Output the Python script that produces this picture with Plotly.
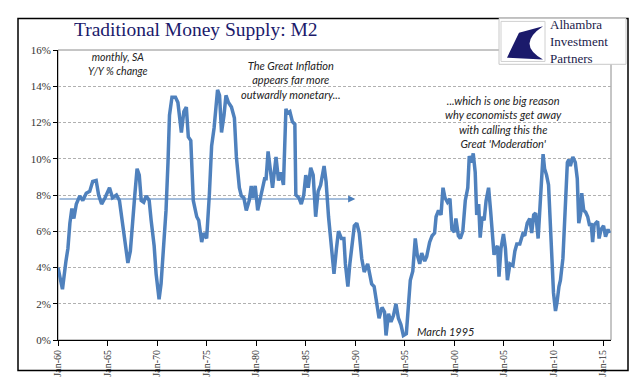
import plotly.graph_objects as go

# ---- data ----
years = [
    1960.0, 1960.25, 1960.45, 1960.8, 1961.0, 1961.2, 1961.4, 1961.6, 1961.85, 1962.2, 1962.5, 1962.85,
    1963.2, 1963.5, 1963.85, 1964.1, 1964.4, 1964.75, 1965.2, 1965.5, 1965.9, 1966.2, 1966.55, 1966.8,
    1967.05, 1967.3, 1967.5, 1967.75, 1967.98, 1968.2, 1968.4, 1968.65, 1968.9, 1969.2, 1969.4, 1969.7, 1969.9,
    1970.2, 1970.4, 1970.65, 1970.9, 1971.1, 1971.25, 1971.5, 1971.85, 1972.1, 1972.3, 1972.45, 1972.7,
    1972.95, 1973.15, 1973.4, 1973.65, 1974.0, 1974.2, 1974.5, 1974.7, 1975.0, 1975.27, 1975.5, 1975.75,
    1975.95, 1976.1, 1976.3, 1976.5, 1976.75, 1976.95, 1977.2, 1977.5, 1977.8, 1978.0, 1978.3, 1978.5,
    1978.75, 1979.0, 1979.3, 1979.5, 1979.65, 1979.9,
    1980.15, 1980.4, 1980.65, 1980.85, 1981.0, 1981.2, 1981.45, 1981.65, 1982.0, 1982.25, 1982.5, 1982.75,
    1983.0, 1983.15, 1983.4, 1983.65, 1983.9, 1984.0, 1984.3, 1984.55, 1984.8, 1985.0, 1985.25, 1985.5,
    1985.75, 1986.0, 1986.25, 1986.5, 1986.85, 1987.05, 1987.3, 1987.6, 1987.85, 1988.1, 1988.3, 1988.6,
    1988.85, 1989.0, 1989.25, 1989.45, 1989.65, 1989.9,
    1990.15, 1990.4, 1990.65, 1990.9, 1991.25, 1991.4, 1991.65, 1991.9, 1992.15, 1992.4, 1992.7, 1992.95,
    1993.1, 1993.35, 1993.6, 1993.85, 1994.1, 1994.35, 1994.6, 1994.85, 1995.15, 1995.35, 1995.55, 1995.8,
    1996.05, 1996.25, 1996.5, 1996.7, 1997.0, 1997.2, 1997.5, 1997.75, 1998.0, 1998.15, 1998.4, 1998.65,
    1998.85, 1999.05, 1999.3, 1999.55, 1999.75,
    2000.0, 2000.15, 2000.4, 2000.6, 2000.85, 2001.1, 2001.35, 2001.5, 2001.75, 2001.9, 2002.1, 2002.25,
    2002.45, 2002.6, 2002.8, 2003.0, 2003.2, 2003.45, 2003.65, 2003.85, 2004.0, 2004.2, 2004.35, 2004.5,
    2004.7, 2004.95, 2005.15, 2005.35, 2005.6, 2005.9, 2006.1, 2006.3, 2006.6, 2006.9, 2007.1, 2007.35,
    2007.6, 2007.8, 2008.0, 2008.2, 2008.45, 2008.6, 2008.8, 2008.95, 2009.1, 2009.3, 2009.5, 2009.7, 2009.85,
    2010.0, 2010.2, 2010.35, 2010.55, 2010.7, 2010.95, 2011.2, 2011.4, 2011.55, 2011.7, 2011.95, 2012.2,
    2012.4, 2012.55, 2012.75, 2012.85, 2013.05, 2013.25, 2013.45, 2013.65, 2013.8, 2013.95, 2014.1, 2014.3,
    2014.45, 2014.6, 2014.8, 2015.05, 2015.25, 2015.5, 2015.65,
]
m2_yoy = [
    4.0, 3.3, 2.8, 4.35, 5.05, 6.45, 7.25, 6.7, 7.5, 7.95, 7.7, 8.1,
    8.2, 8.75, 8.8, 8.0, 7.5, 7.85, 8.4, 7.85, 8.0, 7.7, 6.3, 5.2,
    4.25, 4.9, 6.6, 8.0, 9.45, 9.1, 7.7, 7.6, 7.95, 7.7, 6.6, 5.2, 3.65,
    2.25, 3.1, 5.4, 7.15, 9.8, 12.4, 13.4, 13.4, 13.1, 12.1, 11.45, 12.6,
    12.85, 11.2, 11.0, 7.7, 6.8, 6.6, 5.4, 5.9, 5.6, 8.0, 10.7, 11.7,
    12.75, 13.8, 13.5, 11.45, 12.4, 13.5, 13.1, 12.85, 12.25, 10.1, 8.4, 7.95,
    7.85, 7.15, 7.7, 8.5, 7.85, 8.5,
    7.15, 7.7, 8.4, 8.9, 8.9, 10.4, 9.25, 8.4, 10.1, 8.8, 9.25, 8.55,
    12.75, 12.5, 12.6, 12.05, 11.9, 8.0, 7.85, 7.5, 8.0, 9.1, 8.4, 9.5,
    9.1, 6.8, 8.2, 8.55, 9.6, 8.75, 6.8, 4.9, 3.65, 5.05, 6.0, 5.6,
    5.6, 4.2, 2.95, 4.2, 5.05, 6.3,
    6.45, 5.9, 4.5, 3.75, 4.2, 3.8, 3.1, 2.95, 2.05, 1.2, 1.8, 1.55,
    0.25, 1.45, 1.0, 1.35, 2.0, 1.2, 0.85, 0.25, 0.35, 2.05, 3.3, 3.8,
    5.6, 4.7, 4.2, 4.8, 4.35, 4.6, 5.4, 5.75, 5.9, 6.8, 7.15, 6.9,
    8.4, 7.85, 7.6, 7.8, 6.1,
    5.95, 6.7, 5.75, 5.6, 6.0, 7.7, 8.4, 10.15, 9.8, 10.3, 9.25, 6.9,
    7.5, 5.65, 6.8, 6.6, 7.7, 8.4, 7.15, 5.9, 4.7, 5.05, 5.2, 3.5,
    5.05, 5.85, 5.05, 3.3, 4.2, 4.1, 4.9, 5.3, 5.3, 5.85, 5.75, 6.45,
    6.7, 5.9, 6.9, 7.0, 5.6, 7.0, 8.6, 10.25, 9.45, 9.1, 8.55, 6.3, 4.35,
    2.6, 1.6, 2.05, 2.95, 3.3, 4.5, 7.5, 9.8, 9.95, 9.6, 10.1, 9.8,
    8.9, 6.45, 7.0, 8.1, 7.15, 7.05, 6.8, 6.3, 6.45, 5.4, 6.35, 6.45,
    6.55, 5.6, 6.1, 6.3, 5.7, 6.1, 5.9,
]
x_tick_vals = [1960, 1965, 1970, 1975, 1980, 1985, 1990, 1995, 2000, 2005, 2010, 2015]
x_tick_text = ["Jan-60", "Jan-65", "Jan-70", "Jan-75", "Jan-80", "Jan-85",
               "Jan-90", "Jan-95", "Jan-00", "Jan-05", "Jan-10", "Jan-15"]
y_tick_vals = [0, 2, 4, 6, 8, 10, 12, 14, 16]
y_tick_text = ["0%", "2%", "4%", "6%", "8%", "10%", "12%", "14%", "16%"]
logo_lines = ["Alhambra", "Investment", "Partners"]
arrow_start, arrow_end, arrow_level = 1960, 1990, 7.78

# ---- layout geometry (pixels) ----
W, H = 641, 381
L, R, T, B = 50, 603, 42, 346


def px(x):
    return (x - L) / (R - L)


def py(y):
    return (B - y) / (B - T)


fig = go.Figure()
fig.add_trace(go.Scatter(
    x=years, y=m2_yoy, mode="lines",
    line=dict(color="#4F81BD", width=3.5),
    hoverinfo="skip", showlegend=False,
))

serif = "Liberation Serif"
sans = "Lato"

shapes = [
    dict(type="rect", xref="paper", yref="paper", x0=0, x1=1, y0=0, y1=1,
         line=dict(color="#8c8c8c", width=1), layer="below"),
    dict(type="rect", xref="paper", yref="paper", x0=px(10), x1=px(620), y0=py(378), y1=py(9),
         line=dict(color="black", width=1.5)),
    dict(type="rect", xref="paper", yref="paper", x0=px(491), x1=px(618), y0=py(57), y1=py(9),
         fillcolor="white", line=dict(color="#c8c8c8", width=1)),
    dict(type="rect", xref="paper", yref="paper", x0=px(493), x1=px(537), y0=py(54), y1=py(12),
         fillcolor="white", line=dict(color="#d0d0d0", width=1)),
    dict(type="path", xref="paper", yref="paper",
         path=f"M {px(511)} {py(24)} L {px(535)} {py(17)} Q {px(508)} {py(36)} {px(535)} {py(52)} "
              f"L {px(499)} {py(50)} Z",
         fillcolor="#1b1a6b", line=dict(width=0)),
]

annotations = [
    dict(text="Traditional Money Supply: M2", x=px(64), y=py(21), xref="paper", yref="paper",
         xanchor="left", yanchor="middle", showarrow=False,
         font=dict(family=serif, size=19.5, color="#1b1a6b")),
    dict(text="<br>".join(logo_lines), x=px(541), y=py(33), xref="paper", yref="paper",
         xanchor="left", yanchor="middle", showarrow=False, align="left", borderpad=0,
         font=dict(family=serif, size=13, color="#1a1a4a")),
    dict(text="<i>monthly, SA<br>Y/Y % change</i>", x=px(110), y=py(57), xref="paper", yref="paper",
         xanchor="center", yanchor="middle", showarrow=False, align="center",
         font=dict(family=sans, size=10.5, color="#222")),
    dict(text="<i>The Great Inflation<br>appears far more<br>outwardly monetary...</i>",
         x=px(283), y=py(73), xref="paper", yref="paper", xanchor="center", yanchor="middle",
         showarrow=False, align="center", font=dict(family=sans, size=11, color="#222")),
    dict(text="<i>...which is one big reason<br>why economists get away<br>with calling this the<br>Great 'Moderation'</i>",
         x=px(495), y=py(117), xref="paper", yref="paper", xanchor="center", yanchor="middle",
         showarrow=False, align="center", font=dict(family=sans, size=11, color="#222")),
    dict(text="<i>March 1995</i>", x=px(407), y=py(337), xref="paper", yref="paper",
         xanchor="left", yanchor="middle", showarrow=False,
         font=dict(family=sans, size=11, color="#222")),
    dict(x=arrow_end, y=arrow_level, ax=arrow_start, ay=arrow_level, xref="x", yref="y",
         axref="x", ayref="y", text="", showarrow=True, arrowhead=2, arrowsize=1.2,
         arrowwidth=1.2, arrowcolor="#4a7ebb"),
]

fig.update_layout(
    width=W, height=H,
    margin=dict(l=L, r=W - R, t=T, b=H - B, pad=0),
    paper_bgcolor="white", plot_bgcolor="white",
    showlegend=False,
    shapes=shapes, annotations=annotations,
    xaxis=dict(
        range=[1960, 1960 + (R - L) / 9.91], tickmode="array", tickvals=x_tick_vals,
        ticktext=x_tick_text, tickangle=-90, ticks="outside", ticklen=5, tickcolor="black",
        showline=True, linecolor="black", linewidth=1, showgrid=False, zeroline=False,
        tickfont=dict(family=serif, size=10, color="#333"),
    ),
    yaxis=dict(
        range=[0, 16], tickmode="array", tickvals=y_tick_vals, ticktext=y_tick_text,
        ticks="outside", ticklen=4, tickcolor="black",
        showline=True, linecolor="black", linewidth=1,
        showgrid=True, gridcolor="#b0b0b0", gridwidth=1, griddash="3px,2px", zeroline=False,
        tickfont=dict(family=serif, size=11, color="#333"),
    ),
)

fig.write_html("out.html")
